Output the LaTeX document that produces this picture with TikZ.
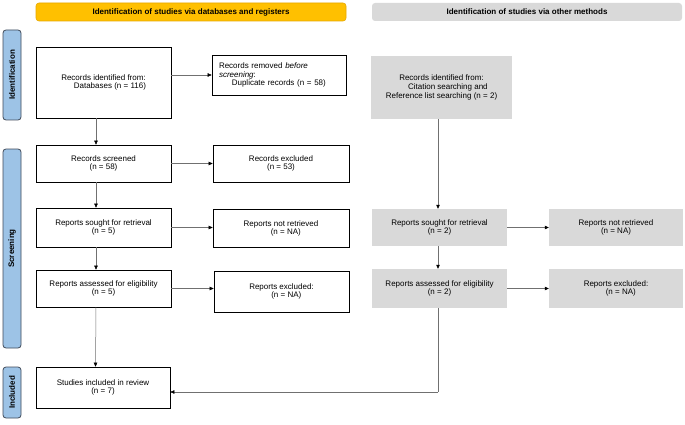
\documentclass[tikz,border=0pt]{standalone}
\usepackage{fontspec}
\setmainfont{Liberation Sans}
\usetikzlibrary{arrows.meta}
\definecolor{banY}{HTML}{FFC000}
\definecolor{banYb}{HTML}{E6A800}
\definecolor{banG}{HTML}{D9D9D9}
\definecolor{sideB}{HTML}{9DC3E6}
\definecolor{sideBb}{HTML}{404A5A}
\definecolor{lineG}{HTML}{707070}
\tikzset{
  txt/.style={font=\fontsize{8}{8.8}\selectfont, align=center, inner sep=1pt},
  wbox/.style={txt, draw=black, line width=0.6pt, fill=white},
  gbox/.style={txt, fill=banG},
  banner/.style={font=\bfseries\fontsize{8}{9}\selectfont, rounded corners=3pt, minimum height=18pt, minimum width=310pt},
  side/.style={font=\bfseries\fontsize{8}{9}\selectfont, rotate=90, rounded corners=3pt, fill=sideB, draw=sideBb, line width=0.8pt, minimum height=18pt},
  arr/.style={draw=lineG, line width=0.5pt, -{Triangle[length=4pt,width=3.5pt,color=black]}},
  ln/.style={draw=lineG, line width=0.5pt}
}
\begin{document}
\begin{tikzpicture}[x=1pt,y=-1pt]
\useasboundingbox (0,0) rectangle (685,425);
% banners
\node[banner, fill=banY, draw=banYb, line width=0.6pt] (b1) at (191,12) {Identification of studies via databases and registers};
\node[banner, fill=banG] (b2) at (527,12) {Identification of studies via other methods};
% side labels
\node[side, minimum width=90pt] (s1) at (12,75) {Identification};
\node[side, minimum width=199pt] (s2) at (12,248.5) {Screening};
\node[side, minimum width=51pt] (s3) at (12,392.5) {Included};
% left column
\node[wbox, minimum width=135pt, minimum height=71pt] (id) at (103.5,82.5) {Records identified from:\\\hspace*{1.6em}Databases (n = 116)};
\node[wbox, minimum width=134pt, minimum height=40pt, align=left, text width=120pt] (rem) at (279,75) {Records removed \textit{before}\\\textit{screening}:\\\hspace*{1.6em}Duplicate records (n = 58)};
\node[wbox, minimum width=135pt, minimum height=37pt] (scr) at (103.5,163.5) {Records screened\\(n = 58)};
\node[wbox, minimum width=136pt, minimum height=37pt] (exc) at (281,163.5) {Records excluded\\(n = 53)};
\node[wbox, minimum width=135pt, minimum height=39pt] (sought) at (103.5,227.5) {Reports sought for retrieval\\(n = 5)};
\node[wbox, minimum width=136pt, minimum height=38pt] (notret) at (281,228.5) {Reports not retrieved\\\hspace*{1.2em}(n = NA)};
\node[wbox, minimum width=135pt, minimum height=37pt] (assess) at (103.5,288.5) {Reports assessed for eligibility\\(n = 5)};
\node[wbox, minimum width=135pt, minimum height=41pt] (excl) at (281.5,291.5) {Reports excluded:\\\hspace*{1.2em}(n = NA)};
\node[wbox, minimum width=134pt, minimum height=41pt] (incl) at (103,387.5) {Studies included in review\\(n = 7)};
% right column
\node[gbox, minimum width=141pt, minimum height=63pt] (oid) at (441.5,87.5) {Records identified from:\\\hspace*{1.6em}Citation searching and\\Reference list searching (n = 2)};
\node[gbox, minimum width=135pt, minimum height=37pt] (osought) at (439.5,227.5) {Reports sought for retrieval\\(n = 2)};
\node[gbox, minimum width=134pt, minimum height=37pt] (onotret) at (616,227.5) {Reports not retrieved\\(n = NA)};
\node[gbox, minimum width=135pt, minimum height=39pt] (oassess) at (439.5,288.5) {Reports assessed for eligibility\\(n = 2)};
\node[gbox, minimum width=134pt, minimum height=39pt] (oexcl) at (616,288.5) {Reports excluded:\\\hspace*{1.2em}(n = NA)};
% connectors left
\draw[arr] (id.east |- rem.west) -- (rem.west);
\draw[arr] ([xshift=-7.5pt]id.south) -- ([xshift=-7.5pt]scr.north);
\draw[arr] (scr.east) -- (scr.east -| exc.west);
\draw[arr] ([xshift=-7.5pt]scr.south) -- ([xshift=-7.5pt]sought.north);
\draw[arr] (sought.east) -- (sought.east -| notret.west);
\draw[arr] ([xshift=-7.5pt]sought.south) -- ([xshift=-7.5pt]assess.north);
\draw[arr] (assess.east) -- (assess.east -| excl.west);
\draw[arr] ([xshift=-7.5pt]assess.south) -- ([xshift=-7.5pt]incl.north);
% connectors right
\draw[arr] ([xshift=-3.5pt]oid.south) -- ([xshift=-1.5pt]osought.north);
\draw[arr] (osought.east) -- (osought.east -| onotret.west);
\draw[arr] ([xshift=-1.5pt]osought.south) -- ([xshift=-1.5pt]oassess.north);
\draw[arr] (oassess.east) -- (oassess.east -| oexcl.west);
\coordinate (turn) at ([xshift=-1.5pt]oassess.south |- 0,392);
\draw[ln] ([xshift=-1.5pt]oassess.south) -- (turn);
\draw[arr] (turn) -- (turn -| incl.east);
\end{tikzpicture}
\end{document}
